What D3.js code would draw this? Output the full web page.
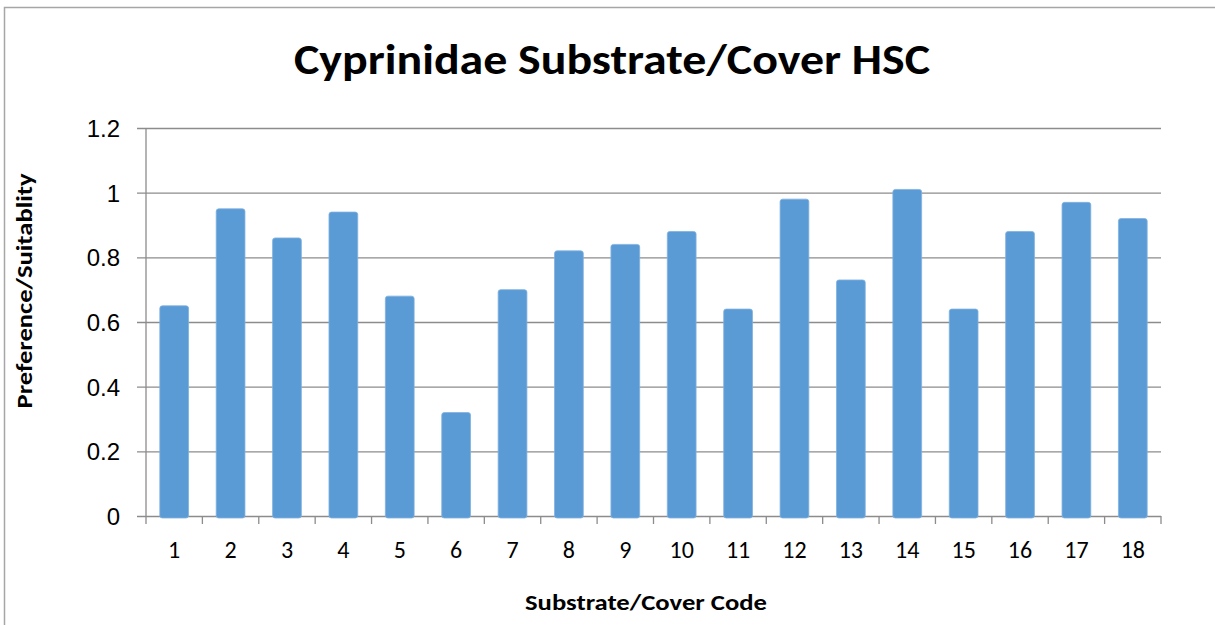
<!DOCTYPE html>
<html>
<head>
<meta charset="utf-8">
<script src="https://cdn.jsdelivr.net/npm/d3@7"></script>
<style>
  html, body { margin: 0; padding: 0; background: #fff; }
  svg { display: block; font-family: Calibri, Carlito, Lato, "Open Sans", sans-serif; }
</style>
</head>
<body>
<div id="chart"></div>
<script>
var codes = ["1", "2", "3", "4", "5", "6", "7", "8", "9", "10", "11", "12", "13", "14", "15", "16", "17", "18"];
var suitability = [0.65, 0.95, 0.86, 0.94, 0.68, 0.32, 0.70, 0.82, 0.84, 0.88, 0.64, 0.98, 0.73, 1.01, 0.64, 0.88, 0.97, 0.92];
var yTicks = [0, 0.2, 0.4, 0.6, 0.8, 1, 1.2];

var width = 1215;
var height = 625;
var margin = { top: 128, right: 54, bottom: 109, left: 146 };
var gridColor = "#8c8c8c";
var barColor = "#5b9bd5";

var svg = d3.select("#chart")
    .append("svg")
    .attr("width", width)
    .attr("height", height);

// chart area border (only left and top show in the frame)
svg.append("path")
    .attr("d", "M4.5," + height + "V7.5H" + width)
    .attr("fill", "none")
    .attr("stroke", "#a6a6a6")
    .attr("stroke-width", 1.5);

var x = d3.scaleBand()
    .domain(codes)
    .range([margin.left, width - margin.right])
    .paddingInner(0.49)
    .paddingOuter(0.245);

var y = d3.scaleLinear()
    .domain([0, 1.2])
    .range([height - margin.bottom, margin.top]);

// gridlines + y ticks
var yAxis = svg.append("g")
    .attr("transform", "translate(" + margin.left + ",0)")
    .call(d3.axisLeft(y)
        .tickValues(yTicks)
        .tickSize(-(width - margin.left - margin.right))
        .tickPadding(0)
        .tickFormat(function (d) { return d; }));
yAxis.select(".domain").remove();
yAxis.selectAll(".tick line")
    .attr("x1", -9)
    .attr("stroke", gridColor)
    .attr("stroke-width", 1.3);
yAxis.selectAll(".tick text")
    .attr("x", -26)
    .attr("dy", "0.36em")
    .attr("fill", "#000")
    .style("font-size", "24px");

// vertical axis line
svg.append("line")
    .attr("x1", margin.left).attr("x2", margin.left)
    .attr("y1", y(1.2)).attr("y2", y(0) + 8)
    .attr("stroke", gridColor)
    .attr("stroke-width", 1.3);

// category boundary ticks
var step = x.step();
svg.append("g")
    .selectAll("line")
    .data(codes)
    .enter()
    .append("line")
    .attr("x1", function (d) { return x(d) + x.bandwidth() + (step - x.bandwidth()) / 2; })
    .attr("x2", function (d) { return x(d) + x.bandwidth() + (step - x.bandwidth()) / 2; })
    .attr("y1", y(0))
    .attr("y2", y(0) + 8)
    .attr("stroke", gridColor)
    .attr("stroke-width", 1.3);

// bars
svg.append("g")
    .selectAll("rect")
    .data(suitability)
    .enter()
    .append("rect")
    .attr("x", function (d, i) { return x(codes[i]); })
    .attr("y", function (d) { return y(d); })
    .attr("width", x.bandwidth())
    .attr("height", function (d) { return y(0) - y(d) + 2; })
    .attr("rx", 2.5)
    .attr("fill", barColor)
    .attr("stroke", "#7fb1e0")
    .attr("stroke-width", 0.8);

// x labels
svg.append("g")
    .selectAll("text")
    .data(codes)
    .enter()
    .append("text")
    .attr("x", function (d) { return x(d) + x.bandwidth() / 2; })
    .attr("y", 558)
    .attr("text-anchor", "middle")
    .style("font-size", "24px")
    .text(function (d) { return d; });

// titles
svg.append("text")
    .attr("x", 612)
    .attr("y", 74)
    .attr("text-anchor", "middle")
    .attr("textLength", 636)
    .attr("lengthAdjust", "spacingAndGlyphs")
    .style("font-size", "42px")
    .style("font-weight", "bold")
    .text("Cyprinidae Substrate/Cover HSC");

svg.append("text")
    .attr("x", 646)
    .attr("y", 610)
    .attr("text-anchor", "middle")
    .attr("textLength", 242)
    .attr("lengthAdjust", "spacingAndGlyphs")
    .style("font-size", "22px")
    .style("font-weight", "bold")
    .text("Substrate/Cover Code");

svg.append("text")
    .attr("transform", "translate(32,291) rotate(-90)")
    .attr("text-anchor", "middle")
    .attr("textLength", 235)
    .attr("lengthAdjust", "spacingAndGlyphs")
    .style("font-size", "22px")
    .style("font-weight", "bold")
    .text("Preference/Suitablity");
</script>
</body>
</html>
